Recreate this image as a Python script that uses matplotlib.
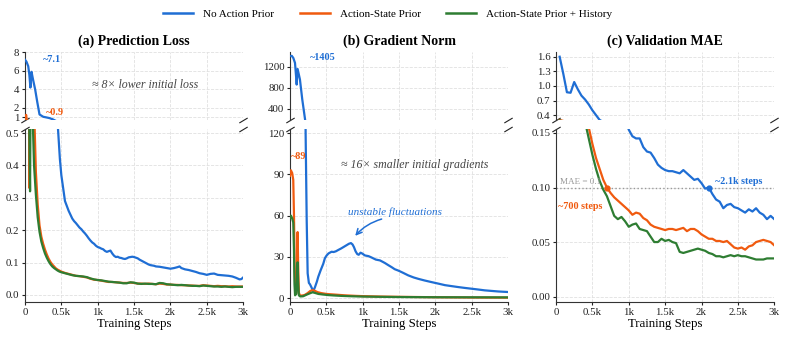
import matplotlib.pyplot as plt
import matplotlib as mpl
import numpy as np
from matplotlib.ticker import FuncFormatter

mpl.rcParams['font.family'] = ['Liberation Serif', 'DejaVu Serif']
mpl.rcParams['mathtext.fontset'] = 'stix'

# ---- data ----
labels = ['No Action Prior', 'Action-State Prior', 'Action-State Prior + History']
colors = ['#1f6ed4', '#f05a0f', '#2e7d32']

# (a) prediction loss
loss_blue_x = [0, 20, 45, 60, 75, 90, 110, 140, 170, 200, 250, 300, 340, 380, 420, 455, 480, 500, 525, 550,
               575, 600, 625, 650, 675, 700, 725, 750, 775, 800, 825, 850, 875, 900, 925, 950, 975, 1000,
               1025, 1050, 1075, 1100, 1125, 1150, 1175, 1200, 1225, 1250, 1275, 1300, 1325, 1350, 1375,
               1400, 1425, 1450, 1475, 1500, 1525, 1550, 1575, 1600, 1625, 1650, 1675, 1700, 1725, 1750,
               1775, 1800, 1850, 1900, 1950, 2000, 2050, 2100, 2125, 2150, 2200, 2250, 2300, 2350, 2400,
               2450, 2500, 2550, 2600, 2650, 2700, 2750, 2800, 2850, 2900, 2950, 2975, 3000]
loss_blue = [7.2, 7.0, 6.5, 5.6, 4.2, 5.9, 5.1, 4.0, 2.6, 1.3, 1.05, 0.97, 0.9, 0.78, 0.62, 0.51, 0.42, 0.37,
             0.33, 0.29, 0.275, 0.26, 0.248, 0.236, 0.228, 0.222, 0.215, 0.208, 0.203, 0.196, 0.19, 0.183,
             0.175, 0.168, 0.162, 0.158, 0.152, 0.148, 0.146, 0.143, 0.141, 0.136, 0.133, 0.135, 0.137,
             0.128, 0.121, 0.117, 0.118, 0.115, 0.114, 0.112, 0.111, 0.113, 0.116, 0.117, 0.118, 0.117,
             0.115, 0.113, 0.109, 0.106, 0.103, 0.100, 0.097, 0.094, 0.092, 0.091, 0.090, 0.088, 0.087,
             0.085, 0.083, 0.081, 0.083, 0.086, 0.088, 0.083, 0.079, 0.077, 0.074, 0.071, 0.067, 0.065,
             0.062, 0.065, 0.066, 0.062, 0.061, 0.060, 0.059, 0.057, 0.053, 0.048, 0.049, 0.054]

loss_orange_x = [0, 8, 16, 24, 32, 45, 55, 62, 68, 80, 95, 110, 125, 135, 150, 175, 200, 225, 250, 275, 300,
                 325, 350, 375, 400, 425, 450, 475, 500, 550, 600, 650, 700, 750, 800, 850, 900, 950, 1000,
                 1050, 1100, 1150, 1200, 1250, 1300, 1350, 1400, 1450, 1500, 1550, 1600, 1650, 1700, 1750,
                 1800, 1850, 1900, 1950, 2000, 2050, 2100, 2150, 2200, 2250, 2300, 2350, 2400, 2450, 2500,
                 2550, 2600, 2650, 2700, 2750, 2800, 2850, 2900, 2950, 3000]
loss_orange = [0.62, 1.0, 1.25, 0.75, 0.6, 0.58, 0.6, 0.33, 0.58, 0.6, 0.58, 0.6, 0.58, 0.5, 0.38, 0.28, 0.215,
               0.18, 0.158, 0.14, 0.125, 0.112, 0.102, 0.094, 0.088, 0.082, 0.078, 0.075, 0.072, 0.068,
               0.065, 0.062, 0.059, 0.058, 0.056, 0.054, 0.050, 0.047, 0.046, 0.044, 0.042, 0.040, 0.040,
               0.039, 0.038, 0.037, 0.037, 0.038, 0.037, 0.035, 0.035, 0.034, 0.035, 0.034, 0.033, 0.035,
               0.034, 0.032, 0.032, 0.031, 0.031, 0.030, 0.030, 0.029, 0.029, 0.028, 0.028, 0.030, 0.029,
               0.028, 0.027, 0.028, 0.027, 0.027, 0.026, 0.027, 0.026, 0.026, 0.026]

loss_green_x = [0, 20, 40, 55, 63, 70, 76, 90, 105, 112, 125, 150, 175, 200, 225, 250, 275, 300, 325, 350,
                375, 400, 425, 450, 475, 500, 550, 600, 650, 700, 750, 800, 850, 900, 950, 1000, 1050, 1100,
                1150, 1200, 1250, 1300, 1350, 1400, 1450, 1500, 1550, 1600, 1650, 1700, 1750, 1800, 1850,
                1900, 1950, 2000, 2050, 2100, 2150, 2200, 2250, 2300, 2350, 2400, 2450, 2500, 2550, 2600,
                2650, 2700, 2750, 2800, 2850, 2900, 2950, 3000]
loss_green = [0.58, 0.6, 0.57, 0.6, 0.45, 0.32, 0.58, 0.6, 0.56, 0.5, 0.4, 0.31, 0.24, 0.195, 0.165, 0.145,
              0.128, 0.115, 0.104, 0.095, 0.088, 0.083, 0.079, 0.075, 0.072, 0.070, 0.067, 0.064, 0.061,
              0.059, 0.058, 0.057, 0.055, 0.051, 0.048, 0.046, 0.045, 0.043, 0.041, 0.040, 0.039, 0.038,
              0.036, 0.036, 0.039, 0.038, 0.035, 0.034, 0.035, 0.034, 0.034, 0.033, 0.037, 0.036, 0.033,
              0.032, 0.031, 0.030, 0.031, 0.030, 0.029, 0.028, 0.028, 0.027, 0.029, 0.028, 0.027, 0.026,
              0.026, 0.025, 0.026, 0.025, 0.024, 0.025, 0.025, 0.025]

# (b) gradient norm
grad_blue_x = [0, 25, 46, 69, 85, 92, 105, 137, 169, 206, 215, 230, 243, 260, 275, 298, 320, 344, 370, 389,
               420, 458, 480, 504, 530, 572, 600, 630, 664, 700, 732, 779, 810, 838, 860, 880, 902, 925, 945,
               970, 990, 1031, 1080, 1122, 1180, 1237, 1270, 1305, 1350, 1397, 1440, 1489, 1550, 1626, 1700,
               1763, 1850, 1947, 2040, 2130, 2220, 2313, 2400, 2496, 2590, 2679, 2770, 2863, 2930, 3000]
grad_blue = [1405, 1410, 1370, 1276, 1000, 864, 1160, 960, 580, 215, 120, 56, 18, 11, 10, 7.5, 5, 8, 12, 15.5,
             20, 25, 29, 31, 32.5, 33.7, 33.5, 34, 35, 36, 37, 38.5, 39.5, 40, 39, 37, 34, 32, 31.5, 33, 32.5,
             31, 30.5, 29.5, 28, 27.4, 26.5, 25.5, 24, 22.5, 21, 20, 18.5, 16.5, 15, 14, 12.8, 11.6, 10.5,
             9.4, 8.7, 8, 7.4, 6.8, 6.2, 5.6, 5.2, 4.8, 4.6, 4.4]

grad_orange_x = [0, 12, 30, 45, 55, 65, 75, 85, 95, 105, 112, 122, 135, 160, 200, 240, 280, 310, 340, 380, 430,
                 500, 573, 650, 750, 900, 1000, 1250, 1500, 1750, 2000, 2250, 2500, 2750, 3000]
grad_orange = [89, 93, 91, 86, 60, 20, 4, 3, 15, 48, 25, 4, 2, 1.8, 2.2, 3.5, 5.2, 5.8, 5.3, 4.3, 3.6, 3.0,
               2.7, 2.4, 2.0, 1.6, 1.4, 1.1, 0.9, 0.75, 0.6, 0.5, 0.4, 0.35, 0.3]

grad_green_x = [0, 12, 30, 45, 55, 62, 70, 85, 95, 105, 112, 122, 140, 180, 230, 280, 310, 340, 390, 450, 520,
                600, 700, 850, 1000, 1250, 1500, 2000, 2500, 3000]
grad_green = [58, 60, 58, 55, 35, 10, 2, 3, 12, 26, 12, 2, 1.2, 1.3, 2.5, 3.6, 4.2, 3.8, 3.0, 2.6, 2.2, 1.9,
              1.6, 1.3, 1.1, 0.9, 0.75, 0.6, 0.55, 0.5]

# (c) validation MAE, evaluated every 50 steps
val_x = list(range(50, 3001, 50))
val_blue = [1.6, 1.25, 0.87, 0.86, 1.08, 0.93, 0.80, 0.72, 0.62, 0.50, 0.40, 0.30, 0.26, 0.235, 0.215, 0.200,
            0.185, 0.172, 0.162, 0.153, 0.147, 0.145, 0.145, 0.137, 0.133, 0.132, 0.127, 0.121, 0.118, 0.116,
            0.115, 0.115, 0.114, 0.113, 0.116, 0.113, 0.110, 0.107, 0.108, 0.104, 0.099, 0.100, 0.094, 0.089,
            0.087, 0.081, 0.084, 0.085, 0.082, 0.081, 0.079, 0.077, 0.080, 0.078, 0.081, 0.077, 0.075, 0.071,
            0.074, 0.071]
val_orange = [0.30, 0.28, 0.26, 0.24, 0.22, 0.20, 0.185, 0.168, 0.155, 0.140, 0.127, 0.117, 0.107, 0.100, 0.095,
              0.091, 0.088, 0.085, 0.082, 0.079, 0.075, 0.077, 0.076, 0.072, 0.070, 0.066, 0.064, 0.063, 0.062,
              0.061, 0.062, 0.062, 0.061, 0.062, 0.063, 0.060, 0.062, 0.062, 0.060, 0.057, 0.055, 0.053, 0.053,
              0.051, 0.051, 0.050, 0.051, 0.048, 0.045, 0.044, 0.045, 0.043, 0.046, 0.047, 0.050, 0.051, 0.052,
              0.051, 0.050, 0.047]
val_green = [0.29, 0.27, 0.25, 0.23, 0.21, 0.195, 0.178, 0.160, 0.145, 0.130, 0.117, 0.106, 0.098, 0.092, 0.083,
             0.074, 0.071, 0.073, 0.069, 0.064, 0.066, 0.067, 0.062, 0.061, 0.060, 0.055, 0.050, 0.050, 0.053,
             0.051, 0.052, 0.050, 0.049, 0.041, 0.040, 0.041, 0.042, 0.043, 0.044, 0.043, 0.042, 0.040, 0.039,
             0.037, 0.037, 0.036, 0.037, 0.038, 0.037, 0.038, 0.037, 0.037, 0.036, 0.035, 0.034, 0.034, 0.034,
             0.035, 0.035, 0.035]

x_ticks = [0, 500, 1000, 1500, 2000, 2500, 3000]
x_ticklabels = ['0', '0.5k', '1k', '1.5k', '2k', '2.5k', '3k']

# ---- layout ----
fig = plt.figure(figsize=(7.85, 3.39), dpi=100)
lefts = [0.0318, 0.3694, 0.7083]
width = 0.278
top_box = (0.646, 0.201)
bot_box = (0.109, 0.510)

grid_kw = dict(color='#e0e0e0', linestyle='--', linewidth=0.6)


def style_axis(ax):
    ax.spines['top'].set_visible(False)
    ax.spines['right'].set_visible(False)
    ax.spines['left'].set_color('#333333')
    ax.spines['bottom'].set_color('#333333')
    ax.tick_params(labelsize=7.8, length=2.5, width=0.8, pad=1.5, colors='#222222')
    ax.set_xlim(0, 3000)
    ax.set_xticks(x_ticks)
    ax.grid(True, **grid_kw)
    ax.set_axisbelow(True)


def broken_panel(left, series, top_ylim, top_ticks, bot_ylim, bot_ticks, top_fmt, bot_fmt, title):
    ax_t = fig.add_axes([left, top_box[0], width, top_box[1]])
    ax_b = fig.add_axes([left, bot_box[0], width, bot_box[1]])
    for ax in (ax_t, ax_b):
        style_axis(ax)
        for (xs, ys), c in zip(series, colors):
            ax.plot(xs, ys, color=c, linewidth=1.6, zorder=3)
    ax_t.set_ylim(*top_ylim)
    ax_t.set_yticks(top_ticks)
    ax_t.yaxis.set_major_formatter(FuncFormatter(lambda v, p: top_fmt % v))
    ax_t.spines['bottom'].set_visible(False)
    ax_t.tick_params(axis='x', bottom=False, labelbottom=False)
    ax_b.set_ylim(*bot_ylim)
    ax_b.set_yticks(bot_ticks)
    ax_b.yaxis.set_major_formatter(FuncFormatter(lambda v, p: bot_fmt % v))
    ax_b.set_xticklabels(x_ticklabels)
    ax_b.set_xlabel('Training Steps', fontsize=9.3, labelpad=1)
    ax_t.set_title(title, fontsize=10, fontweight='bold', pad=5)

    # break marks
    kw = dict(marker=[(-1, -0.6), (1, 0.6)], markersize=6, linestyle='none',
              color='#222222', mec='#222222', mew=0.8, clip_on=False)
    ax_t.plot([0, 1], [0, 0], transform=ax_t.transAxes, **kw)
    ax_b.plot([0, 1], [1, 1], transform=ax_b.transAxes, **kw)
    return ax_t, ax_b


# (a)
a_t, a_b = broken_panel(lefts[0],
                        [(loss_blue_x, loss_blue), (loss_orange_x, loss_orange), (loss_green_x, loss_green)],
                        (0.7, 8.05), [1, 2, 4, 6, 8], (-0.022, 0.512), [0, 0.1, 0.2, 0.3, 0.4, 0.5],
                        '%g', '%.1f', '(a) Prediction Loss')
a_t.text(250, 7.2, '~7.1', color=colors[0], fontsize=7.3, fontweight='bold', va='center')
a_t.text(290, 1.5, '~0.9', color=colors[1], fontsize=7.3, fontweight='bold', va='center')
a_t.text(1650, 4.5, '≈ 8× lower initial loss', color='#444444', fontsize=8.6, style='italic',
         ha='center', va='center')

# (b)
b_t, b_b = broken_panel(lefts[1],
                        [(grad_blue_x, grad_blue), (grad_orange_x, grad_orange), (grad_green_x, grad_green)],
                        (190, 1486), [400, 800, 1200], (-2.9, 122.9), [0, 30, 60, 90, 120],
                        '%g', '%g', '(b) Gradient Norm')
b_t.text(270, 1370, '~1405', color=colors[0], fontsize=7.3, fontweight='bold', va='center')
b_b.text(15, 103, '~89', color=colors[1], fontsize=7.3, fontweight='bold', va='center')
b_b.text(1720, 97, '≈ 16× smaller initial gradients', color='#444444', fontsize=8.6, style='italic',
         ha='center', va='center')
b_b.text(1440, 62.5, 'unstable fluctuations', color=colors[0], fontsize=8, style='italic',
         ha='center', va='center')
b_b.annotate('', xy=(884, 44.5), xytext=(1260, 57.5),
             arrowprops=dict(arrowstyle='->', color=colors[0], lw=1.1,
                             connectionstyle='arc3,rad=0.15', shrinkA=0, shrinkB=1))

# (c)
c_t, c_b = broken_panel(lefts[2],
                        [(val_x, val_blue), (val_x, val_orange), (val_x, val_green)],
                        (0.3, 1.7), [0.4, 0.7, 1.0, 1.3, 1.6], (-0.005, 0.1535), [0, 0.05, 0.10, 0.15],
                        '%.1f', '%.2f', '(c) Validation MAE')
c_b.axhline(0.10, color='#999999', linestyle=':', linewidth=1.0, zorder=2)
c_b.text(60, 0.1015, 'MAE = 0.1', color='#999999', fontsize=6.6, va='bottom')
c_b.plot([700], [0.10], 'o', color=colors[1], markersize=3.5, zorder=4)
c_b.plot([2100], [0.10], 'o', color=colors[0], markersize=3.5, zorder=4)
c_b.text(30, 0.0825, '~700 steps', color=colors[1], fontsize=7.3, fontweight='bold', va='center')
c_b.text(2190, 0.1055, '~2.1k steps', color=colors[0], fontsize=7.3, fontweight='bold', va='center')

# legend
handles = [plt.Line2D([], [], color=c, linewidth=1.8) for c in colors]
fig.legend(handles, labels, loc='center', bbox_to_anchor=(0.494, 0.958), ncol=3, frameon=False,
           fontsize=8, handlelength=2.7, columnspacing=2.3, handletextpad=0.9)

fig.savefig('out.png', dpi=100)
